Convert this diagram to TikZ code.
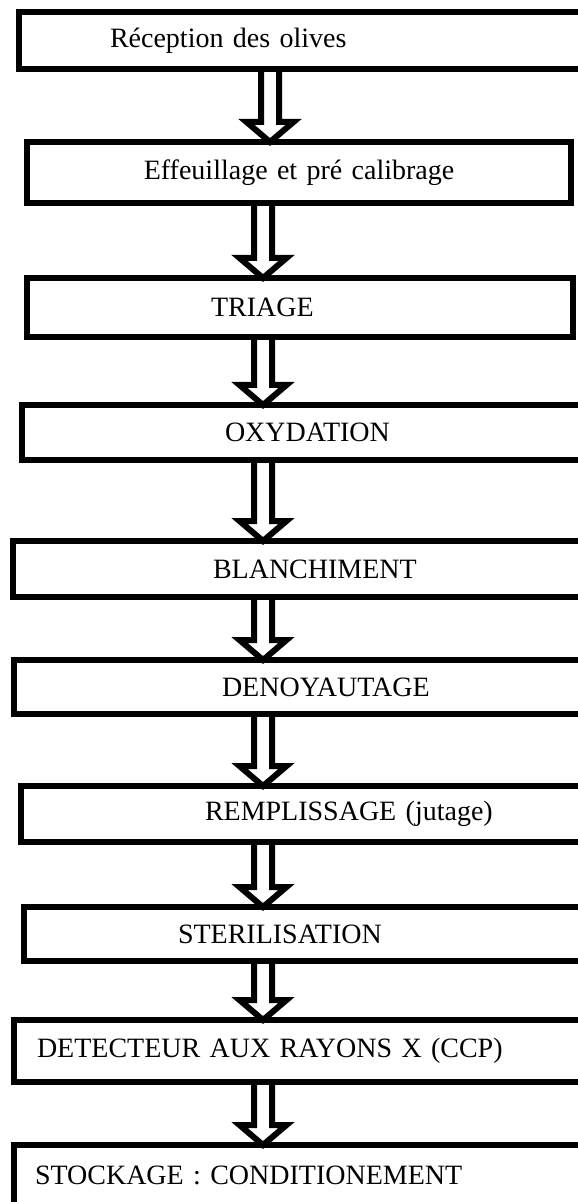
\documentclass[tikz,border=0pt]{standalone}
\usepackage{fontspec}
\setmainfont{Liberation Serif}
\usepackage{tikz}
\usetikzlibrary{calc}

\tikzset{
  stage/.style={draw, line width=3pt, anchor=north west, align=left,
                inner ysep=0pt, outer sep=0pt,
                font=\fontsize{14}{16}\selectfont},
  hollow/.style={line width=3pt, to path={let \p1=(\tikztostart), \p2=(\tikztotarget) in
      (\x1-4.5pt,\y1) -- (\x1-4.5pt,\y2+10pt) -- (\x1-11.75pt,\y2+10pt) -- (\x1,\y2)
      -- (\x1+11.75pt,\y2+10pt) -- (\x1+4.5pt,\y2+10pt) -- (\x1+4.5pt,\y1)}}
}

\begin{document}
\begin{tikzpicture}[x=0.5pt, y=-0.5pt]
   \useasboundingbox (0,0) rectangle (577,1202);

   % process steps
   \node[stage, minimum height=28.5pt, inner xsep=45.5pt, text width=248pt] (reception) at (19,12) {Réception des olives};
   \node[stage, minimum height=30.5pt, inner xsep=4pt, text width=264pt, align=center] (effeuillage) at (27,142) {Effeuillage et pré calibrage};
   \node[stage, minimum height=29.5pt, inner xsep=92pt, text width=89pt] (triage) at (27,278) {TRIAGE};
   \node[stage, minimum height=27.5pt, inner xsep=101.5pt, text width=134.5pt] (oxydation) at (22,405) {OXYDATION};
   \node[stage, minimum height=28pt, inner xsep=100pt, text width=142pt] (blanchiment) at (13,541) {BLANCHIMENT};
   \node[stage, minimum height=27pt, inner xsep=104pt, text width=133.5pt] (denoyautage) at (14,660) {DENOYAUTAGE};
   \node[stage, minimum height=28pt, inner xsep=92pt, text width=154pt] (remplissage) at (21,786) {REMPLISSAGE (jutage)};
   \node[stage, minimum height=27pt, inner xsep=77pt, text width=182.5pt] (sterilisation) at (24,907) {STERILISATION};
   \node[stage, minimum height=31pt, inner xsep=11.5pt, text width=318.5pt] (detecteur) at (14,1020) {DETECTEUR AUX RAYONS X (CCP)};
   \node[stage, minimum height=30pt, inner xsep=10.5pt, text width=320.5pt] (stockage) at (14,1145) {STOCKAGE : CONDITIONEMENT};

   \coordinate (colA) at (270,0);
   \coordinate (colB) at (263,0);

   % hollow arrows between steps
   \path[hollow]
    (reception.south -| colA) edge (effeuillage.north -| colA)
    (effeuillage.south -| colB) edge (triage.north -| colB)
    (triage.south -| colB) edge (oxydation.north -| colB)
    (oxydation.south -| colB) edge (blanchiment.north -| colB)
    (blanchiment.south -| colB) edge (denoyautage.north -| colB)
    (denoyautage.south -| colB) edge (remplissage.north -| colB)
    (remplissage.south -| colB) edge (sterilisation.north -| colB)
    (sterilisation.south -| colB) edge (detecteur.north -| colB)
    (detecteur.south -| colB) edge (stockage.north -| colB);

\end{tikzpicture}
\end{document}
